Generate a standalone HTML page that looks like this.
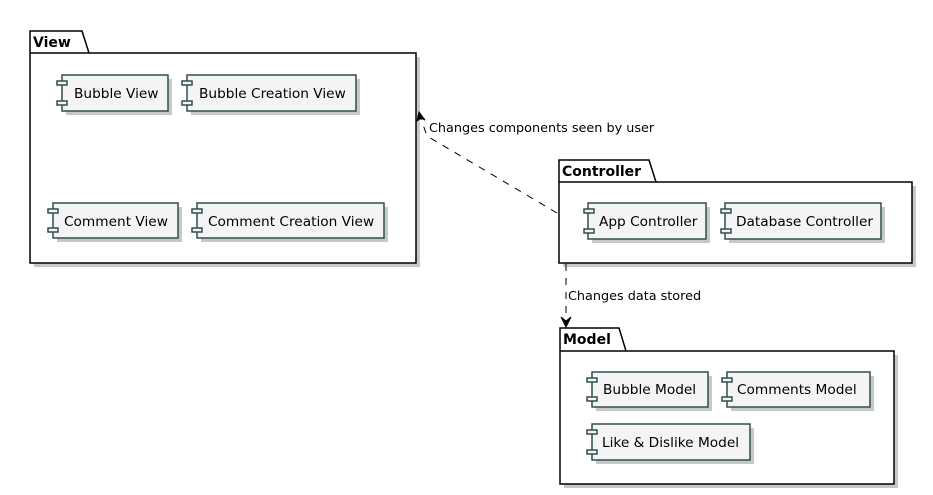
<!DOCTYPE html>
<html><head><meta charset="utf-8"><style>
html,body{margin:0;padding:0;background:#fff;}
svg{display:block;font-family:"DejaVu Sans","Liberation Sans",sans-serif;}
.c{fill:#F4F4F4;stroke:#2F4F4F;stroke-width:1.5;}
.p{fill:#fff;stroke:#000;stroke-width:1.5;}
.s{fill:#c8c8c8;}
.t{font-size:13.7px;fill:#000;}
.pt{font-size:14px;font-weight:bold;fill:#000;}
.l{font-size:12.8px;fill:#000;}
</style></head><body>
<svg width="933" height="495" viewBox="0 0 933 495" xmlns="http://www.w3.org/2000/svg">
<rect class="s" x="34" y="57" width="386" height="210"/>
<path class="p" d="M30,31 L82,31 L89,53 L416,53 L416,263 L30,263 Z"/>
<line x1="30" y1="53" x2="89" y2="53" stroke="#000" stroke-width="1.5"/>
<text class="pt" x="33" y="47">View</text>

<rect class="s" x="563" y="186" width="353" height="81"/>
<path class="p" d="M559,160 L649,160 L656,182 L912,182 L912,263 L559,263 Z"/>
<line x1="559" y1="182" x2="656" y2="182" stroke="#000" stroke-width="1.5"/>
<text class="pt" x="562" y="176">Controller</text>

<rect class="s" x="564" y="355" width="334" height="133"/>
<path class="p" d="M560,328 L619,328 L626,351 L894,351 L894,484 L560,484 Z"/>
<line x1="560" y1="351" x2="626" y2="351" stroke="#000" stroke-width="1.5"/>
<text class="pt" x="563" y="344">Model</text>

<g>
<rect class="s" x="66" y="79" width="106" height="36"/>
<rect class="c" x="62" y="75" width="106" height="36"/>
<rect class="c" x="57" y="81" width="10" height="4"/><rect class="c" x="57" y="101" width="10" height="4"/>
<text class="t" x="74" y="98">Bubble View</text>

<rect class="s" x="191" y="79" width="169" height="36"/>
<rect class="c" x="187" y="75" width="169" height="36"/>
<rect class="c" x="182" y="81" width="10" height="4"/><rect class="c" x="182" y="101" width="10" height="4"/>
<text class="t" x="199" y="98">Bubble Creation View</text>

<rect class="s" x="57" y="207" width="125" height="35"/>
<rect class="c" x="53" y="203" width="125" height="35"/>
<rect class="c" x="48" y="209" width="10" height="4"/><rect class="c" x="48" y="228" width="10" height="4"/>
<text class="t" x="64" y="226">Comment View</text>

<rect class="s" x="201" y="207" width="187" height="35"/>
<rect class="c" x="197" y="203" width="187" height="35"/>
<rect class="c" x="192" y="209" width="10" height="4"/><rect class="c" x="192" y="228" width="10" height="4"/>
<text class="t" x="208" y="226">Comment Creation View</text>

<rect class="s" x="592" y="207" width="118" height="36"/>
<rect class="c" x="588" y="203" width="118" height="36"/>
<rect class="c" x="584" y="209" width="10" height="4"/><rect class="c" x="584" y="229" width="10" height="4"/>
<text class="t" x="599" y="226">App Controller</text>

<rect class="s" x="729" y="207" width="156" height="36"/>
<rect class="c" x="725" y="203" width="156" height="36"/>
<rect class="c" x="721" y="209" width="10" height="4"/><rect class="c" x="721" y="229" width="10" height="4"/>
<text class="t" x="736" y="226">Database Controller</text>

<rect class="s" x="596" y="376" width="116" height="35"/>
<rect class="c" x="592" y="372" width="116" height="35"/>
<rect class="c" x="587" y="378" width="10" height="4"/><rect class="c" x="587" y="397" width="10" height="4"/>
<text class="t" x="603" y="394">Bubble Model</text>

<rect class="s" x="731" y="376" width="143" height="35"/>
<rect class="c" x="727" y="372" width="143" height="35"/>
<rect class="c" x="722" y="378" width="10" height="4"/><rect class="c" x="722" y="397" width="10" height="4"/>
<text class="t" x="737" y="394">Comments Model</text>

<rect class="s" x="596" y="428" width="158" height="36"/>
<rect class="c" x="592" y="424" width="158" height="36"/>
<rect class="c" x="587" y="430" width="10" height="4"/><rect class="c" x="587" y="450" width="10" height="4"/>
<text class="t" x="602" y="447">Like &amp; Dislike Model</text>
</g>

<path d="M557,213 L427,136 L420,116" stroke="#000" stroke-width="1" stroke-dasharray="7,7" fill="none"/>
<polygon points="419,112 425,120 421,118 417,121" fill="#000" stroke="#000"/>
<text class="l" x="429" y="132">Changes components seen by user</text>

<path d="M566,264 L566,324" stroke="#000" stroke-width="1" stroke-dasharray="7,7" fill="none"/>
<polygon points="566,327 561,317 566,321 571,317" fill="#000" stroke="#000"/>
<text class="l" x="568" y="300">Changes data stored</text>
</svg>
</body></html>
